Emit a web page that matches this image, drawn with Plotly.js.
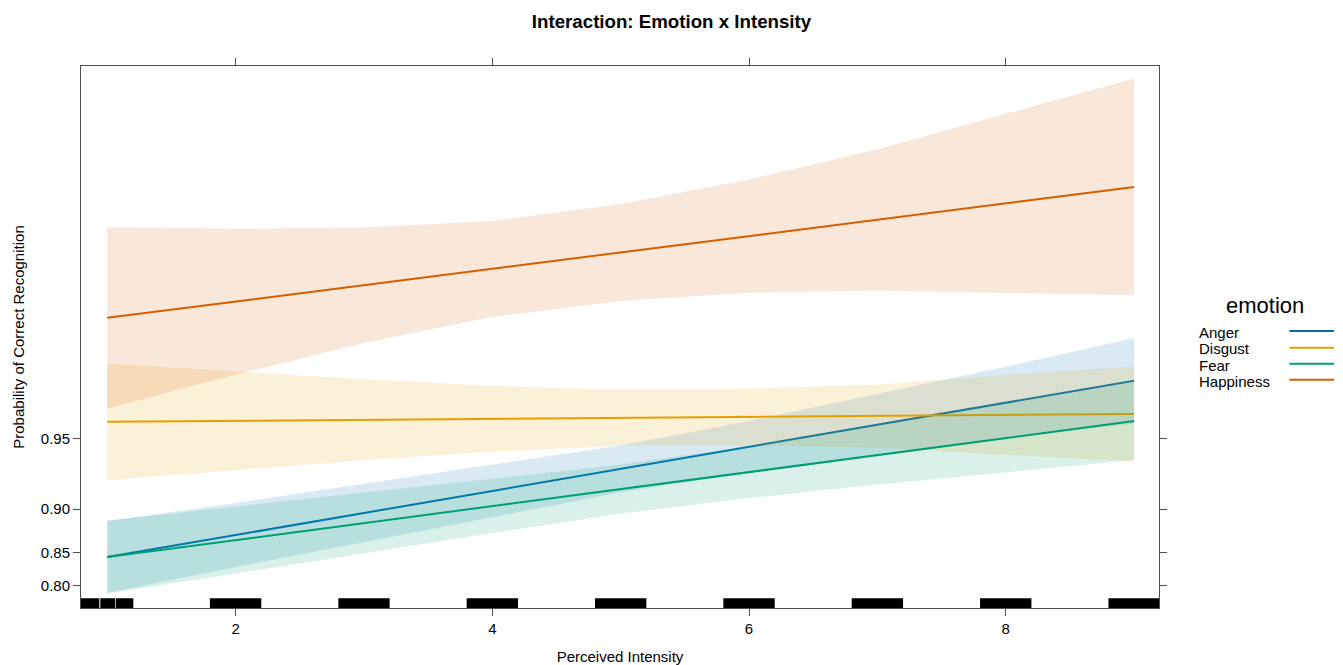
<!DOCTYPE html>
<html>
<head>
<meta charset="utf-8">
<script src="https://cdn.plot.ly/plotly-3.0.1.min.js"></script>
<style>
  html, body { margin: 0; padding: 0; background: #ffffff; }
  #chart { width: 1343px; height: 665px; }
</style>
</head>
<body>
<div id="chart"></div>
<script>
// ---- data (probabilities) ----
const intensity = [1, 2, 3, 4, 5, 6, 7, 8, 9];
const emotions = ['Anger', 'Disgust', 'Fear', 'Happiness'];
const emotionColors = ['#0072B2', '#E69F00', '#009E73', '#D55E00'];

const angerFit   = [0.84411, 0.87245, 0.89625, 0.91605, 0.93236, 0.94568, 0.95650, 0.96525, 0.97229];
const angerUpper = [0.88799, 0.90566, 0.92169, 0.93515, 0.94641, 0.95813, 0.96823, 0.97600, 0.98219];
const angerLower = [0.78716, 0.82973, 0.86378, 0.89200, 0.91495, 0.92980, 0.94071, 0.94992, 0.95712];

const disgustFit   = [0.95780, 0.95823, 0.95865, 0.95907, 0.95946, 0.95985, 0.96026, 0.96066, 0.96106];
const disgustUpper = [0.97682, 0.97484, 0.97268, 0.97079, 0.96955, 0.97000, 0.97121, 0.97389, 0.97606];
const disgustLower = [0.92441, 0.93142, 0.93788, 0.94293, 0.94622, 0.94646, 0.94538, 0.94113, 0.93726];

const fearFit   = [0.84411, 0.86636, 0.88588, 0.90286, 0.91755, 0.93019, 0.94101, 0.95025, 0.95810];
const fearUpper = [0.88853, 0.90240, 0.91470, 0.92521, 0.93517, 0.94608, 0.95614, 0.96494, 0.97188];
const fearLower = [0.78628, 0.81973, 0.84894, 0.87472, 0.89566, 0.91004, 0.92108, 0.92985, 0.93800];

const happinessFit   = [0.98556, 0.98782, 0.98974, 0.99136, 0.99272, 0.99387, 0.99484, 0.99566, 0.99635];
const happinessUpper = [0.99442, 0.99434, 0.99441, 0.99478, 0.99563, 0.99663, 0.99755, 0.99831, 0.99884];
const happinessLower = [0.96310, 0.97399, 0.98124, 0.98571, 0.98789, 0.98889, 0.98916, 0.98886, 0.98859];

// y tick labels (probability scale)
const yTickProbs = [0.80, 0.85, 0.90, 0.95];
const yTickLabels = ['0.80', '0.85', '0.90', '0.95'];
const xTickVals = [2, 4, 6, 8];

// rug of observed (jittered) intensity values: start / end of each dense block
const rugStart = [0.79, 0.946, 1.068, 1.8, 2.8, 3.8, 4.8, 5.8, 6.8, 7.8, 8.8];
const rugEnd   = [0.938, 1.063, 1.203, 2.2, 3.2, 4.2, 5.2, 6.2, 7.2, 8.2, 9.2];

// ---- helpers ----
const logit = p => Math.log(p / (1 - p));
function hexToRgba(hex, a) {
  const n = parseInt(hex.slice(1), 16);
  return 'rgba(' + ((n >> 16) & 255) + ',' + ((n >> 8) & 255) + ',' + (n & 255) + ',' + a + ')';
}

const series = [
  { fit: angerFit, lo: angerLower, hi: angerUpper },
  { fit: disgustFit, lo: disgustLower, hi: disgustUpper },
  { fit: fearFit, lo: fearLower, hi: fearUpper },
  { fit: happinessFit, lo: happinessLower, hi: happinessUpper }
];

const FONT = 'Liberation Sans, Arial, sans-serif';
const xRange = [0.7955, 9.194];
const yRange = [1.150, 6.891];

const traces = [];
series.forEach((s, i) => {
  const col = emotionColors[i];
  traces.push({
    type: 'scatter', mode: 'lines',
    x: intensity.concat(intensity.slice().reverse()),
    y: s.hi.map(logit).concat(s.lo.map(logit).reverse()),
    fill: 'toself', fillcolor: hexToRgba(col, 0.15),
    line: { width: 0, color: 'rgba(0,0,0,0)' },
    hoverinfo: 'skip', showlegend: false, name: emotions[i] + ' CI'
  });
  traces.push({
    type: 'scatter', mode: 'lines',
    x: intensity, y: s.fit.map(logit),
    line: { color: col, width: 2 },
    name: emotions[i], showlegend: false
  });
});

const shapes = [];
for (let i = 0; i < rugStart.length; i++) {
  shapes.push({
    type: 'rect', xref: 'x', yref: 'paper',
    x0: Math.max(rugStart[i], xRange[0]), x1: Math.min(rugEnd[i], xRange[1]),
    y0: 0, y1: 0.018,
    fillcolor: '#000000', line: { width: 0 }
  });
}

// custom legend (text on the left, line key on the right, as in the reference)
const annotations = [{
  xref: 'paper', yref: 'paper', x: 1.0979, y: 0.5572,
  xanchor: 'center', yanchor: 'middle', showarrow: false,
  text: 'emotion', font: { family: FONT, size: 22, color: '#000000' }
}];
const legY = [0.5087, 0.4779, 0.4474, 0.4170];
const keyY = [0.5111, 0.4803, 0.4507, 0.4212];
emotions.forEach((e, i) => {
  annotations.push({
    xref: 'paper', yref: 'paper', x: 1.0355, y: legY[i],
    xanchor: 'left', yanchor: 'middle', showarrow: false,
    text: e, font: { family: FONT, size: 15, color: '#000000' }
  });
  shapes.push({
    type: 'line', xref: 'paper', yref: 'paper',
    x0: 1.1209, x1: 1.1623, y0: keyY[i], y1: keyY[i],
    line: { color: emotionColors[i], width: 2 }
  });
});

const axisCommon = {
  showline: true, linecolor: '#4d4d4d', linewidth: 1,
  mirror: 'allticks', ticks: 'outside', ticklen: 7, tickwidth: 1, tickcolor: '#4d4d4d',
  showgrid: false, zeroline: false,
  tickfont: { family: FONT, size: 15, color: '#000000' }
};

const layout = {
  width: 1343, height: 665,
  paper_bgcolor: '#ffffff', plot_bgcolor: '#ffffff',
  margin: { l: 81, r: 184, t: 66, b: 57 },
  title: {
    text: '<b>Interaction: Emotion x Intensity</b>',
    font: { family: FONT, size: 18.7, color: '#000000' },
    xref: 'container', x: 0.5, xanchor: 'center',
    yref: 'container', y: 0.9677, yanchor: 'middle'
  },
  xaxis: Object.assign({}, axisCommon, {
    range: xRange, tickvals: xTickVals,
    title: { text: 'Perceived Intensity', font: { family: FONT, size: 15, color: '#000000' }, standoff: 15 }
  }),
  yaxis: Object.assign({}, axisCommon, {
    range: yRange,
    tickvals: yTickProbs.map(logit), ticktext: yTickLabels,
    title: { text: 'Probability of Correct Recognition', font: { family: FONT, size: 15, color: '#000000' }, standoff: 12 }
  }),
  shapes: shapes,
  annotations: annotations,
  showlegend: false
};

Plotly.newPlot('chart', traces, layout, { displayModeBar: false, staticPlot: true });
</script>
</body>
</html>
